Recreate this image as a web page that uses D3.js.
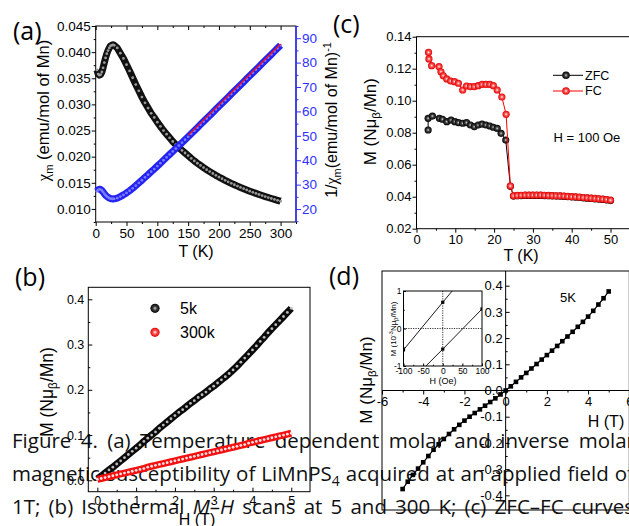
<!DOCTYPE html>
<html lang="en">
<head>
<meta charset="utf-8">
<title>LiMnPS4 magnetic data</title>
<script src="https://d3js.org/d3.v7.min.js"></script>
<style>
  body { margin: 0; background: #fff; }
</style>
</head>
<body>
<svg id="fig"></svg>
<script>
// ---------- data ----------
// (a) chi_m and 1/chi_m vs T
let tempA = [2,4,6,8,10,12,14,16,18,20,22,24,26,28,30,35,40,45,50,55,60,65,70,75,80,85,90,95,100,
  105,110,115,120,125,130,135,140,145,150,155,160,165,170,175,180,185,190,195,200,205,210,215,220,
  225,230,235,240,245,250,255,260,265,270,275,280,285,290,295,300];
let chiA = [0.0366,0.0358,0.0356,0.0357,0.0362,0.0370,0.0380,0.0389,0.0397,0.0403,0.0408,0.0412,0.0413,0.0414,0.0413,
  0.0408,0.0398,0.0388,0.0376,0.0364,0.0351,0.0338,0.0326,0.0314,0.0303,0.0293,0.0283,0.0275,0.0266,0.0258,0.0250,
  0.0243,0.0236,0.0229,0.0223,0.0217,0.0212,0.0207,0.0202,
  0.01967,0.01919,0.01874,0.01832,0.01791,0.01751,0.01714,0.01678,0.01643,0.01610,0.01579,0.01548,0.01519,0.01490,
  0.01463,0.01437,0.01411,0.01387,0.01363,0.01340,0.01318,0.01297,0.01276,0.01256,0.01237,0.01218,0.01200,0.01182,
  0.01165,0.01148];
let invChiA = [27.3,27.9,28.1,28.0,27.6,27.0,26.3,25.7,25.2,24.8,24.5,24.3,24.2,24.15,24.2,
  24.5,25.1,25.8,26.6,27.5,28.5,29.6,30.7,31.8,33.0,34.1,35.3,36.4,37.6,38.8,40.0,41.2,42.4,43.6,44.8,46.0,47.2,48.4,49.6,
  50.85,52.1,53.35,54.6,55.85,57.1,58.35,59.6,60.85,62.1,63.35,64.6,65.85,67.1,68.35,69.6,70.85,72.1,73.35,74.6,
  75.85,77.1,78.35,79.6,80.85,82.1,83.35,84.6,85.85,87.1];
let fitT = [150, 300];
let fitInv = [50.2, 87.6];

// (b) M-H at 5 K and 300 K
let fieldB = [0,0.1,0.2,0.3,0.4,0.5,0.6,0.7,0.8,0.9,1.0,1.1,1.2,1.3,1.4,1.5,1.6,1.7,1.8,1.9,2.0,2.1,2.2,2.3,2.4,2.5,
  2.6,2.7,2.8,2.9,3.0,3.1,3.2,3.3,3.4,3.5,3.6,3.7,3.8,3.9,4.0,4.1,4.2,4.3,4.4,4.5,4.6,4.7,4.8,4.9,5.0];
let m5k = [0.003,0.009,0.016,0.023,0.029,0.036,0.043,0.050,0.057,0.064,0.071,0.078,0.086,0.093,0.100,0.107,0.115,
  0.122,0.129,0.136,0.143,0.150,0.156,0.163,0.170,0.176,0.183,0.189,0.195,0.202,0.208,0.215,0.222,0.229,0.236,0.244,
  0.252,0.261,0.270,0.279,0.288,0.297,0.307,0.316,0.326,0.335,0.344,0.353,0.362,0.371,0.380];
let m300k = [0.002,0.004,0.006,0.008,0.010,0.012,0.014,0.016,0.018,0.020,0.022,0.024,0.026,0.029,0.031,0.033,0.035,
  0.037,0.039,0.041,0.043,0.045,0.047,0.049,0.051,0.053,0.055,0.057,0.059,0.061,0.063,0.065,0.067,0.069,0.071,0.073,
  0.075,0.077,0.079,0.082,0.084,0.086,0.088,0.090,0.092,0.094,0.096,0.098,0.100,0.102,0.104];
let legendB = ["5k", "300k"];

// (c) ZFC / FC at 100 Oe
let tempZFC = [3.0,3.0,4.1,5.9,6.7,7.8,8.9,9.9,10.8,11.9,12.9,13.9,14.9,15.9,16.9,17.9,18.9,19.8,20.8,21.8,23.0,24.2,
  25,26,27,28,29,30,31,32,33,34,35,36,37,38,39,40,41,42,43,44,45,46,47,48,49,50];
let mZFC = [0.0817,0.0890,0.0904,0.0890,0.0884,0.0869,0.0879,0.0869,0.0863,0.0859,0.0863,0.0848,0.0838,0.0848,0.0854,
  0.0848,0.0842,0.0834,0.0827,0.0796,0.0754,0.0465,
  0.0404,0.0406,0.0407,0.0408,0.0408,0.0408,0.0408,0.0408,0.0407,0.0406,0.0405,0.0404,0.0403,0.0402,0.0400,0.0398,
  0.0397,0.0395,0.0393,0.0391,0.0389,0.0387,0.0385,0.0383,0.0380,0.0376];
let tempFC = [3.1,3.2,3.9,5.8,6.3,6.9,7.8,8.8,9.8,10.8,11.9,12.9,13.9,14.9,15.9,16.9,17.9,18.9,19.8,20.8,22.0,23.1,24.2,
  25,26,27,28,29,30,31,32,33,34,35,36,37,38,39,40,41,42,43,44,45,46,47,48,49,50];
let mFC = [0.1302,0.1261,0.1219,0.1213,0.1181,0.1156,0.1136,0.1123,0.1119,0.1109,0.1067,0.1092,0.1088,0.1088,0.1094,
  0.1102,0.1102,0.1102,0.1094,0.1067,0.1023,0.0915,0.0467,
  0.0406,0.0408,0.0409,0.0410,0.0410,0.0410,0.0410,0.0410,0.0409,0.0408,0.0407,0.0406,0.0405,0.0404,0.0402,0.0400,
  0.0399,0.0397,0.0395,0.0393,0.0391,0.0389,0.0387,0.0385,0.0382,0.0378];
let legendC = ["ZFC", "FC"];

// (d) full loop at 5 K, and inset
let fieldD = [-5,-4.75,-4.5,-4.25,-4,-3.75,-3.5,-3.25,-3,-2.75,-2.5,-2.25,-2,-1.75,-1.5,-1.25,-1,-0.75,-0.5,-0.25,
  0,0.25,0.5,0.75,1,1.25,1.5,1.75,2,2.25,2.5,2.75,3,3.25,3.5,3.75,4,4.25,4.5,4.75,5];
let mD = [-0.376,-0.348,-0.322,-0.298,-0.274,-0.250,-0.226,-0.205,-0.185,-0.166,-0.148,-0.131,-0.115,-0.100,-0.086,
  -0.072,-0.058,-0.044,-0.030,-0.015,0.000,0.016,0.033,0.050,0.067,0.084,0.101,0.118,0.135,0.152,0.170,0.188,0.206,
  0.224,0.243,0.262,0.282,0.304,0.328,0.352,0.378];
let insetH = [-100, 0, 100];
let insetUp = [-0.57, 0.70, 1.95];
let insetDown = [-1.60, -0.55, 0.52];

let caption = [
  [{t: "Figure 4. (a) Temperature dependent molar and inverse molar"}],
  [{t: "magnetic susceptibility of LiMnPS"}, {t: "4", sub: true}, {t: " acquired at an applied field of"}],
  [{t: "1T; (b) Isothermal "}, {t: "M", it: true}, {t: "\u2013"}, {t: "H", it: true}, {t: " scans at 5 and 300 K; (c) ZFC\u2013FC curves"}]
];
let captionEnd = [635, 634, 634];

// ---------- drawing ----------
const SANS = "'Liberation Sans', Arial, sans-serif";
const SERIF = "'Liberation Serif', 'Times New Roman', serif";
const BLUE = "#3030ff";

let svg = d3.select("#fig").attr("width", 629).attr("height", 526)
    .style("font-family", SANS);
svg.append("rect").attr("width", 629).attr("height", 526).attr("fill", "#fff");

let defs = svg.append("defs");
function ball(id, c0, c1, c2) {
  let g = defs.append("radialGradient").attr("id", id);
  g.append("stop").attr("offset", "0%").attr("stop-color", c0);
  g.append("stop").attr("offset", "40%").attr("stop-color", c1);
  g.append("stop").attr("offset", "100%").attr("stop-color", c2);
}
ball("gBlack", "#d8d8d8", "#444", "#000");
ball("gRed", "#ffffff", "#ff5a5a", "#e00000");

function rich(t, parts, fs) {
  let shift = 0;
  parts.forEach(p => {
    let s = t.append("tspan").text(p.t);
    let want = p.sub ? fs * 0.25 : p.sup ? -fs * 0.4 : 0;
    if (want !== shift) { s.attr("dy", want - shift); shift = want; }
    if (p.sub || p.sup) s.attr("font-size", fs * 0.68);
    if (p.serif) s.attr("font-family", SERIF);
    if (p.it) s.attr("font-style", "italic");
  });
}

// caption sits underneath the panels
caption.forEach((parts, i) => {
  let t = svg.append("text").attr("x", 12).attr("y", [448, 481, 514][i])
      .attr("font-family", "'Open Sans', sans-serif").attr("font-size", 20.5).attr("fill", "#111");
  rich(t, parts, 20.5);
  let len = t.node().getComputedTextLength();
  let spaces = parts.map(p => p.t).join("").split(" ").length - 1;
  t.attr("word-spacing", (captionEnd[i] - 12 - len) / spaces);
});

function label(x, y, parts, fs, rot, anchor, color) {
  let t = svg.append("text")
      .attr("transform", `translate(${x},${y})` + (rot ? " rotate(-90)" : ""))
      .attr("text-anchor", anchor || "middle").attr("font-size", fs).attr("fill", color || "#000");
  rich(t, parts, fs);
  return t;
}

function axis(x, y, fn, scale, major, minor, len, fmt, fs, color, pad) {
  color = color || "#000";
  let g = svg.append("g").attr("transform", `translate(${x},${y})`);
  g.call(fn(scale).tickValues(major).tickSize(len).tickSizeOuter(0)
      .tickPadding(pad == null ? 2 : pad).tickFormat(fmt || (() => "")));
  if (minor) g.append("g").call(fn(scale).tickValues(minor).tickSize(len / 2).tickSizeOuter(0).tickFormat(() => ""));
  g.selectAll(".domain").remove();
  g.selectAll("line").attr("stroke", color);
  g.selectAll("text").attr("fill", color).attr("font-size", fs).attr("font-family", SANS);
  return g;
}

function frame(x0, y0, x1, y1, color) {
  svg.append("rect").attr("x", x0).attr("y", y0).attr("width", x1 - x0).attr("height", y1 - y0)
      .attr("fill", "none").attr("stroke", color || "#000").attr("stroke-width", 1);
}

// thick band through the points with small light beads, as in the scanned symbols
function band(pts, sx, sy, edge, bead) {
  svg.append("path").attr("d", d3.line().x(d => sx(d[0])).y(d => sy(d[1]))(pts))
      .attr("fill", "none").attr("stroke", edge).attr("stroke-width", 7).attr("stroke-linejoin", "round");
  svg.append("g").selectAll("circle").data(pts).join("circle")
      .attr("cx", d => sx(d[0])).attr("cy", d => sy(d[1])).attr("r", 1.4).attr("fill", bead);
}

const f3 = d3.format(".3f"), f2 = d3.format(".2f"), f1 = v => v.toFixed(1), fi = v => String(v);

// ---- panel (a)
let xA = d3.scaleLinear([0, 325], [95.7, 296]);
let yA = d3.scaleLinear([0.0075, 0.045], [222, 26]);
let yA2 = d3.scaleLinear([14.7, 95], [222, 26]);
frame(95.7, 26, 296, 222);
svg.append("line").attr("x1", 296).attr("x2", 296).attr("y1", 26).attr("y2", 222).attr("stroke", BLUE).attr("stroke-width", 1.5);
axis(0, 222, d3.axisBottom, xA, [0,50,100,150,200,250,300], [25,75,125,175,225,275,325], 4, fi, 13.5);
axis(0, 26, d3.axisTop, xA, [0,50,100,150,200,250,300], [25,75,125,175,225,275], -4);
axis(95.7, 0, d3.axisLeft, yA, [0.010,0.015,0.020,0.025,0.030,0.035,0.040,0.045],
     [0.0075,0.0125,0.0175,0.0225,0.0275,0.0325,0.0375,0.0425], 4, f3, 13.5, "#000", 1);
axis(296, 0, d3.axisRight, yA2, [20,30,40,50,60,70,80,90], [15,25,35,45,55,65,75,85,95], 5, fi, 13.5, BLUE, 1);

band(d3.zip(tempA, chiA), xA, yA, "#111", "#9a9a9a");
band(d3.zip(tempA, invChiA), xA, yA2, "#2222f2", "#7b7bff");
svg.append("path").attr("d", d3.line().x(d => xA(d[0])).y(d => yA2(d[1]))(d3.zip(fitT, fitInv)))
    .attr("stroke", "#ff1010").attr("stroke-width", 1.3).attr("fill", "none");

label(13, 39.5, [{t: "(a)"}], 25, false, "start").attr("font-family", "'Open Sans', sans-serif");
label(48.5, 110.5, [{t: "\u03c7", serif: true}, {t: "m", sub: true}, {t: " (emu/mol of Mn)"}], 16.5, true);
label(337, 120, [{t: "1/"}, {t: "\u03c7", serif: true}, {t: "m", sub: true}, {t: "(emu/mol of Mn)"}, {t: "-1", sup: true}], 16, true);
label(196, 257.3, [{t: "T (K)"}], 16);

// ---- panel (c)
let xC = d3.scaleLinear([0, 55], [416.5, 629.9]);
let yC = d3.scaleLinear([0.02, 0.14], [228.7, 36.7]);
frame(416.5, 36.7, 629.9, 228.7);
axis(0, 228.7, d3.axisBottom, xC, [0,10,20,30,40,50], [5,15,25,35,45,55], 4, fi, 13);
axis(416.5, 0, d3.axisLeft, yC, [0.02,0.04,0.06,0.08,0.10,0.12,0.14], [0.03,0.05,0.07,0.09,0.11,0.13], 4, f2, 13, "#000", 1);

let ptsZ = d3.zip(tempZFC, mZFC), ptsF = d3.zip(tempFC, mFC);
let lineC = d3.line().x(d => xC(d[0])).y(d => yC(d[1]));
svg.append("path").attr("d", lineC(ptsZ)).attr("fill", "none").attr("stroke", "#000").attr("stroke-width", 1);
svg.append("g").selectAll("circle").data(ptsZ).join("circle")
    .attr("cx", d => xC(d[0])).attr("cy", d => yC(d[1])).attr("r", 3.6).attr("fill", "url(#gBlack)");
svg.append("path").attr("d", lineC(ptsF)).attr("fill", "none").attr("stroke", "#ff0000").attr("stroke-width", 1);
svg.append("g").selectAll("circle").data(ptsF).join("circle")
    .attr("cx", d => xC(d[0])).attr("cy", d => yC(d[1])).attr("r", 3.6).attr("fill", "url(#gRed)");

[["#000", "url(#gBlack)", 75.3], ["#ff0000", "url(#gRed)", 91]].forEach((s, i) => {
  svg.append("line").attr("x1", 553).attr("x2", 583).attr("y1", s[2]).attr("y2", s[2]).attr("stroke", s[0]);
  svg.append("circle").attr("cx", 566).attr("cy", s[2]).attr("r", 3.8).attr("fill", s[1]);
  label(585, s[2] + 4.3, [{t: legendC[i]}], 12.5, false, "start");
});
label(553.5, 141.7, [{t: "H = 100 Oe"}], 13, false, "start");
label(333, 32.7, [{t: "(c)"}], 25, false, "start").attr("font-family", "'Open Sans', sans-serif");
label(376, 121.7, [{t: "M (N\u03bc"}, {t: "\u03b2", sub: true}, {t: "/Mn)"}], 17, true);
label(521, 261, [{t: "T (K)"}], 16);

// ---- panel (b)
let xB = d3.scaleLinear([-0.233, 5.483], [88.3, 310]);
let yB = d3.scaleLinear([-0.0252, 0.4265], [491.7, 287.3]);
frame(88.3, 287.3, 310, 491.7);
axis(0, 491.7, d3.axisBottom, xB, [0,1,2,3,4,5], [0.5,1.5,2.5,3.5,4.5], -4, fi, 12.5, "#000", 4);
axis(88.3, 0, d3.axisLeft, yB, [0.0,0.1,0.2,0.3,0.4], [0.05,0.15,0.25,0.35], -4, f1, 12.5, "#000", 4);

band(d3.zip(fieldB, m5k), xB, yB, "#0a0a0a", "#bdbdbd");
band(d3.zip(fieldB, m300k), xB, yB, "#f21010", "#ffe0e0");

[["url(#gBlack)", 308.3], ["url(#gRed)", 332.3]].forEach((s, i) => {
  svg.append("circle").attr("cx", 155).attr("cy", s[1]).attr("r", 4.6).attr("fill", s[0]);
  label(180, s[1] + 6, [{t: legendB[i]}], 16, false, "start");
});
label(15, 286, [{t: "(b)"}], 25, false, "start").attr("font-family", "'Open Sans', sans-serif");
label(53, 392, [{t: "M (N\u03bc"}, {t: "\u03b2", sub: true}, {t: "/Mn)"}], 17.5, true);
label(197, 525, [{t: "H (T)"}], 16);

// ---- panel (d)
let xD = d3.scaleLinear([-6, 6], [382, 629.3]);
let yD = d3.scaleLinear([-0.456, 0.456], [510, 271]);
frame(382, 271, 629.3, 510);
svg.append("line").attr("x1", xD(0)).attr("x2", xD(0)).attr("y1", 271).attr("y2", 510).attr("stroke", "#000");
svg.append("line").attr("x1", 382).attr("x2", 629.3).attr("y1", yD(0)).attr("y2", yD(0)).attr("stroke", "#000");
axis(0, yD(0), d3.axisBottom, xD, [-6,-4,-2,0,2,4,6], [-5,-3,-1,1,3,5], 4, fi, 13, "#000", 2);
axis(xD(0), 0, d3.axisLeft, yD, [-0.4,-0.3,-0.2,-0.1,0.0,0.1,0.2,0.3,0.4],
     [-0.35,-0.25,-0.15,-0.05,0.05,0.15,0.25,0.35], -4, f1, 13, "#000", 3);

let ptsD = d3.zip(fieldD, mD);
svg.append("path").attr("d", d3.line().x(d => xD(d[0])).y(d => yD(d[1]))(ptsD))
    .attr("fill", "none").attr("stroke", "#000").attr("stroke-width", 1.2);
svg.append("g").selectAll("rect").data(ptsD).join("rect")
    .attr("x", d => xD(d[0]) - 2.3).attr("y", d => yD(d[1]) - 2.3).attr("width", 4.6).attr("height", 4.6).attr("fill", "#000");

label(329, 285, [{t: "(d)"}], 25, false, "start").attr("font-family", "'Open Sans', sans-serif");
label(371.5, 380, [{t: "M (N\u03bc"}, {t: "\u03b2", sub: true}, {t: "/Mn)"}], 17, true);
label(606, 426.7, [{t: "H (T)"}], 16);
label(560, 301.7, [{t: "5K"}], 13, false, "start");

// inset of (d)
let xI = d3.scaleLinear([-100, 100], [403.5, 482]);
let yI = d3.scaleLinear([-1, 1], [366, 291]);
svg.append("rect").attr("x", 403.5).attr("y", 291).attr("width", 78.5).attr("height", 75).attr("fill", "#fff");
defs.append("clipPath").attr("id", "insetClip").append("rect")
    .attr("x", 403.5).attr("y", 291).attr("width", 78.5).attr("height", 75);
svg.append("line").attr("x1", xI(0)).attr("x2", xI(0)).attr("y1", 291).attr("y2", 366)
    .attr("stroke", "#000").attr("stroke-width", 0.8).attr("stroke-dasharray", "1.2,1.2");
svg.append("line").attr("x1", 403.5).attr("x2", 482).attr("y1", yI(0)).attr("y2", yI(0))
    .attr("stroke", "#000").attr("stroke-width", 0.8).attr("stroke-dasharray", "1.2,1.2");
let insetG = svg.append("g").attr("clip-path", "url(#insetClip)");
let lineI = d3.line().x(d => xI(d[0])).y(d => yI(d[1]));
[insetUp, insetDown].forEach(br => {
  let p = d3.zip(insetH, br);
  insetG.append("path").attr("d", lineI(p)).attr("fill", "none").attr("stroke", "#000").attr("stroke-width", 0.9);
  insetG.selectAll(null).data(p).join("rect")
      .attr("x", d => xI(d[0]) - 1.6).attr("y", d => yI(d[1]) - 1.6).attr("width", 3.2).attr("height", 3.2).attr("fill", "#000");
});
frame(403.5, 291, 482, 366);
axis(0, 366, d3.axisBottom, xI, [-100,-50,0,50,100], [-75,-25,25,75], -2.5, fi, 8.5, "#000", 1.5);
axis(403.5, 0, d3.axisLeft, yI, [-1,0,1], [-0.5,0.5], -2.5, fi, 8.5, "#000", 2);
label(443, 384, [{t: "H (Oe)"}], 9);
label(396, 329, [{t: "M (10"}, {t: "-3", sup: true}, {t: "N\u03bc"}, {t: "\u03b2", sub: true}, {t: "/Mn)"}], 8, true);
</script>
</body>
</html>
